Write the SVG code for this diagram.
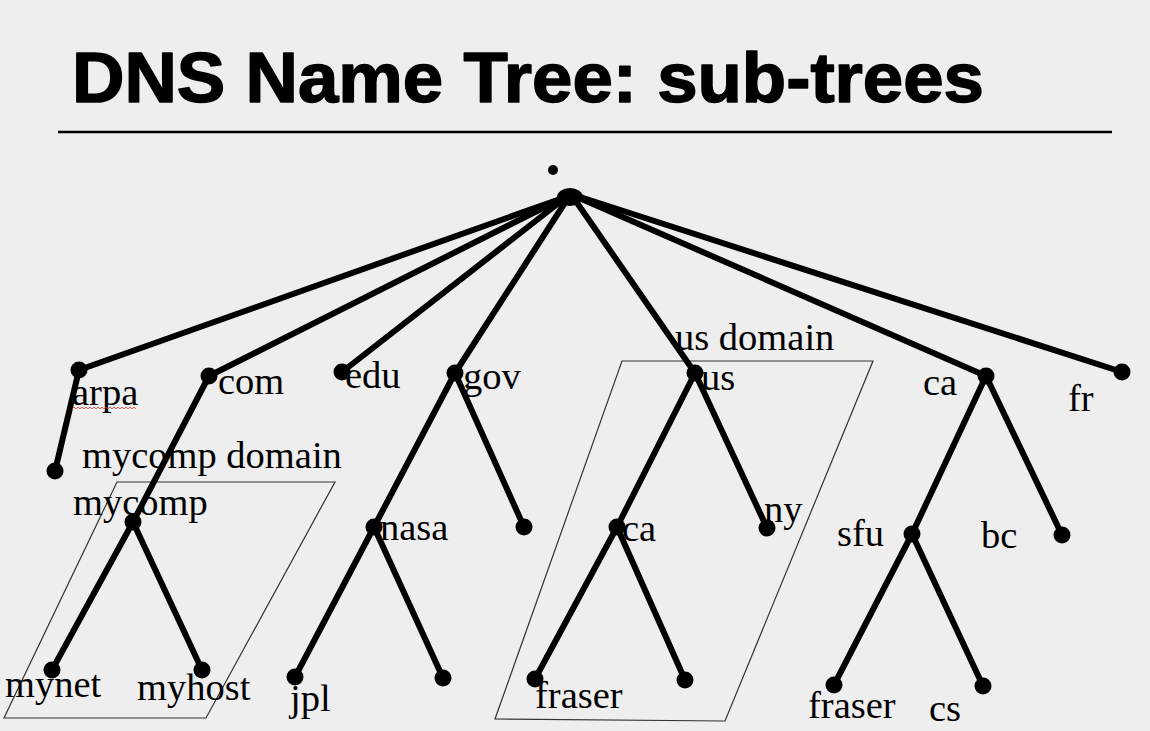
<svg xmlns="http://www.w3.org/2000/svg" width="1150" height="731" viewBox="0 0 1150 731">
<style>
.bg{fill:#eeeeee}
.title{font-family:"Liberation Sans",Arial,sans-serif;font-weight:bold;font-size:70px;fill:#000;stroke:#000;stroke-width:1.5;stroke-linejoin:round}
.lbl{font-family:"Liberation Serif","Times New Roman",serif;font-size:38.5px;fill:#000}
.edge{stroke:#000;stroke-width:6;stroke-linecap:round;fill:none}
.node{fill:#000}
.dom{fill:none;stroke:#333;stroke-width:1.2}
</style>
<rect class="bg" x="0" y="0" width="1150" height="731"/>
<text class="title" x="72" y="102" textLength="912" lengthAdjust="spacingAndGlyphs">DNS Name Tree: sub-trees</text>
<line x1="58" y1="132" x2="1112" y2="132" stroke="#000" stroke-width="2.5"/>
<circle cx="553" cy="170" r="5" fill="#000"/>

<g id="domains">
  <polygon class="dom" points="117,482 335,482 206,718 4,718"/>
  <polygon class="dom" points="622,361 873,361 725,721 495,719"/>
</g>

<g id="connectors">
  <line class="edge" x1="563" y1="198" x2="79" y2="370"/>
  <line class="edge" x1="563" y1="198" x2="209" y2="376"/>
  <line class="edge" x1="565" y1="198" x2="342" y2="372"/>
  <line class="edge" x1="568" y1="198" x2="455" y2="373"/>
  <line class="edge" x1="573" y1="197" x2="695" y2="373"/>
  <line class="edge" x1="577" y1="197" x2="986" y2="376"/>
  <line class="edge" x1="577" y1="196" x2="1122" y2="372"/>
  <line class="edge" x1="79" y1="370" x2="55" y2="471"/>
  <line class="edge" x1="209" y1="376" x2="133" y2="522"/>
  <line class="edge" x1="133" y1="522" x2="52" y2="670"/>
  <line class="edge" x1="133" y1="522" x2="202" y2="670"/>
  <line class="edge" x1="455" y1="373" x2="374" y2="527"/>
  <line class="edge" x1="455" y1="373" x2="524" y2="527"/>
  <line class="edge" x1="374" y1="527" x2="295" y2="677"/>
  <line class="edge" x1="374" y1="527" x2="443" y2="678"/>
  <line class="edge" x1="695" y1="373" x2="617" y2="527"/>
  <line class="edge" x1="695" y1="373" x2="767" y2="528"/>
  <line class="edge" x1="617" y1="527" x2="535" y2="679"/>
  <line class="edge" x1="617" y1="527" x2="685" y2="680"/>
  <line class="edge" x1="986" y1="376" x2="912" y2="534"/>
  <line class="edge" x1="986" y1="376" x2="1062" y2="535"/>
  <line class="edge" x1="912" y1="534" x2="834" y2="685"/>
  <line class="edge" x1="912" y1="534" x2="983" y2="686"/>
</g>

<g id="root"><ellipse class="node" cx="570" cy="197" rx="13" ry="9"/></g>
<g id="arpa"><circle class="node" cx="79" cy="370" r="8.5"/><text class="lbl" x="72" y="405">arpa</text>
  <path d="M72,409 l2,-2 l2,2 l2,-2 l2,2 l2,-2 l2,2 l2,-2 l2,2 l2,-2 l2,2 l2,-2 l2,2 l2,-2 l2,2 l2,-2 l2,2 l2,-2 l2,2 l2,-2 l2,2 l2,-2 l2,2 l2,-2 l2,2 l2,-2 l2,2 l2,-2 l2,2 l2,-2 l2,2 l2,-2 l2,2" fill="none" stroke="#e03030" stroke-width="0.8"/></g>
<g id="arpa-child"><circle class="node" cx="55" cy="471" r="8.5"/></g>
<g id="com"><circle class="node" cx="209" cy="376" r="8.5"/><text class="lbl" x="218" y="394">com</text></g>
<g id="edu"><circle class="node" cx="342" cy="372" r="8.5"/><text class="lbl" x="345" y="388">edu</text></g>
<g id="gov"><circle class="node" cx="455" cy="373" r="8.5"/><text class="lbl" x="463" y="389">gov</text></g>
<g id="us"><circle class="node" cx="695" cy="373" r="8.5"/><text class="lbl" x="701" y="390">us</text></g>
<g id="ca"><circle class="node" cx="986" cy="376" r="8.5"/><text class="lbl" x="923" y="395">ca</text></g>
<g id="fr"><circle class="node" cx="1122" cy="372" r="8.5"/><text class="lbl" x="1068" y="411">fr</text></g>

<g id="mycomp-domain-label"><text class="lbl" x="82" y="468">mycomp domain</text></g>
<g id="us-domain-label"><text class="lbl" x="675" y="350">us domain</text></g>

<g id="mycomp"><circle class="node" cx="133" cy="522" r="8.5"/><text class="lbl" x="73" y="515">mycomp</text></g>
<g id="mynet"><circle class="node" cx="52" cy="670" r="8.5"/><text class="lbl" x="5" y="697">mynet</text></g>
<g id="myhost"><circle class="node" cx="202" cy="670" r="8.5"/><text class="lbl" x="137" y="700">myhost</text></g>

<g id="nasa"><circle class="node" cx="374" cy="527" r="8.5"/><text class="lbl" x="380" y="540">nasa</text></g>
<g id="gov-child"><circle class="node" cx="524" cy="527" r="8.5"/></g>
<g id="jpl"><circle class="node" cx="295" cy="677" r="8.5"/><text class="lbl" x="290" y="711">jpl</text></g>
<g id="nasa-child"><circle class="node" cx="443" cy="678" r="8.5"/></g>

<g id="us-ca"><circle class="node" cx="617" cy="527" r="8.5"/><text class="lbl" x="622" y="541">ca</text></g>
<g id="ny"><circle class="node" cx="767" cy="528" r="8.5"/><text class="lbl" x="764" y="522">ny</text></g>
<g id="us-fraser"><circle class="node" cx="535" cy="679" r="8.5"/><text class="lbl" x="535" y="708">fraser</text></g>
<g id="us-ca-child"><circle class="node" cx="685" cy="680" r="8.5"/></g>

<g id="sfu"><circle class="node" cx="912" cy="534" r="8.5"/><text class="lbl" x="837" y="546">sfu</text></g>
<g id="bc"><text class="lbl" x="981" y="548">bc</text></g>
<g id="ca-child"><circle class="node" cx="1062" cy="535" r="8.5"/></g>
<g id="sfu-fraser"><circle class="node" cx="834" cy="685" r="8.5"/><text class="lbl" x="808" y="718">fraser</text></g>
<g id="cs"><circle class="node" cx="983" cy="686" r="8.5"/><text class="lbl" x="929" y="721">cs</text></g>
</svg>
